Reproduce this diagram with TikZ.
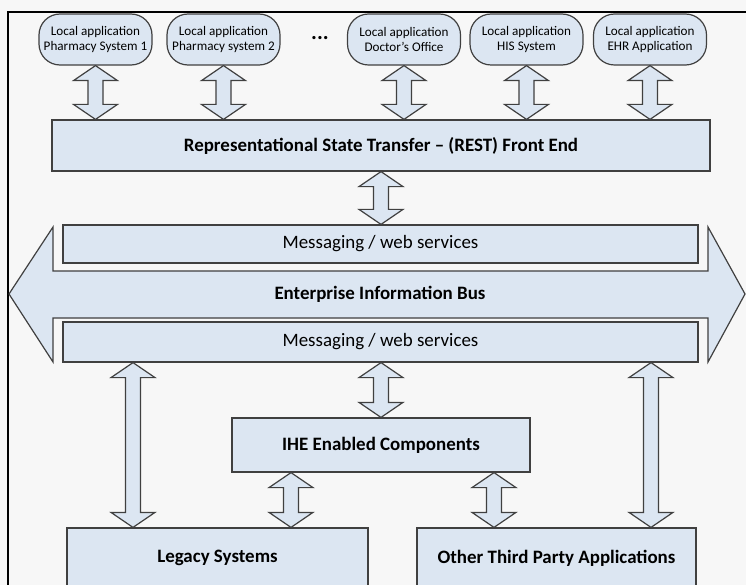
\documentclass[tikz,border=0pt]{standalone}
\usepackage{fontspec}
\setmainfont{Carlito}
\usetikzlibrary{calc}
\definecolor{boxfill}{HTML}{DCE6F2}
\definecolor{edge}{HTML}{404040}
\definecolor{bg}{HTML}{F7F7F7}
\tikzset{
  bluebox/.style={draw=edge, line width=1.2bp, fill=boxfill, rectangle, inner sep=0pt},
  toppill/.style={bluebox, rounded corners=21bp, minimum width=113bp, minimum height=51bp, align=center, font=\fontsize{13.2}{15}\selectfont},
  boldlbl/.style={font=\fontsize{19}{22}\selectfont\bfseries},
  plainlbl/.style={font=\fontsize{19}{22}\selectfont},
  dblarrow/.style={draw=edge, line width=1.2bp, fill=boxfill, line join=miter},
}
\newcommand\vdarrow[2]{\draw[dblarrow] let \p1=(#1), \p2=(#2) in
  (\x1,\y1) -- ++(22bp,-15bp) -- ++(-14.5bp,0bp) -- (\x1+7.5bp,\y2+15bp) -- ++(14.5bp,0bp)
  -- (\x1,\y2) -- ++(-22bp,15bp) -- ++(14.5bp,0bp) -- (\x1-7.5bp,\y1-15bp) -- ++(-14.5bp,0bp) -- cycle;}
\begin{document}
\begin{tikzpicture}[x=1bp,y=-1bp]
\useasboundingbox (0,0) rectangle (746,585);
\clip (0,0) rectangle (746,585);
\fill[bg] (0,0) rectangle (746,585);
% frame
\draw[black, line width=1.3bp] (8,586) -- (8,12) -- (747,12);
% top local applications
\node[toppill] (p1) at (95.5,39.5) {Local application\\Pharmacy System 1};
\node[toppill] (p2) at (223.5,39.5) {Local application\\Pharmacy system 2};
\node[font=\fontsize{22}{24}\selectfont\bfseries] (dots) at (320,38) {...};
\node[toppill] (p3) at (404,39.5) {Local application\\Doctor's Office};
\node[toppill] (p4) at (526.5,39.5) {Local application\\HIS System};
\node[toppill] (p5) at (650,39.5) {Local application\\EHR Application};
% REST
\node[bluebox, boldlbl, minimum width=658bp, minimum height=51bp] (rest) at (381,145.5) {Representational State Transfer -- (REST) Front End};
% bus arrow
\draw[dblarrow] (9,294) -- (53,227) -- (53,271) -- (708,271) -- (708,227) -- (745,294)
  -- (708,362) -- (708,318) -- (53,318) -- (53,362) -- cycle;
\node[boldlbl] (bus) at (380,294.5) {Enterprise Information Bus};
\node[bluebox, plainlbl, minimum width=635bp, minimum height=38bp] (msg1) at (380.5,244) {Messaging / web services};
\node[bluebox, plainlbl, minimum width=635bp, minimum height=40bp] (msg2) at (380.5,342) {Messaging / web services};
% IHE
\node[bluebox, boldlbl, minimum width=298bp, minimum height=54bp] (ihe) at (381,445) {IHE Enabled Components};
% bottom systems
\node[bluebox, boldlbl, minimum width=301bp, minimum height=60bp] (legacy) at (217.5,558) {Legacy Systems};
\node[bluebox, boldlbl, minimum width=279bp, minimum height=60bp] (other) at (556.5,558) {Other Third Party Applications};
% helper coordinates for off-centre arrows
\coordinate (xL) at (133,0);
\coordinate (xR) at (651,0);
\coordinate (xIL) at (291,0);
\coordinate (xIR) at (494,0);
% arrows
\vdarrow{p1.south}{p1.south |- rest.north}
\vdarrow{p2.south}{p2.south |- rest.north}
\vdarrow{p3.south}{p3.south |- rest.north}
\vdarrow{p4.south}{p4.south |- rest.north}
\vdarrow{p5.south}{p5.south |- rest.north}
\vdarrow{rest.south}{rest.south |- msg1.north}
\vdarrow{ihe.north |- msg2.south}{ihe.north}
\vdarrow{xL |- msg2.south}{xL |- legacy.north}
\vdarrow{xR |- msg2.south}{xR |- other.north}
\vdarrow{xIL |- ihe.south}{xIL |- legacy.north}
\vdarrow{xIR |- ihe.south}{xIR |- other.north}
\end{tikzpicture}
\end{document}
